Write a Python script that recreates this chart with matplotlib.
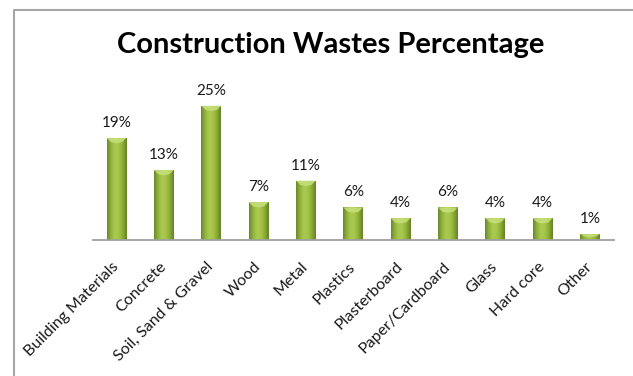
import numpy as np
import matplotlib
matplotlib.use("Agg")
import matplotlib.pyplot as plt
from matplotlib.colors import LinearSegmentedColormap
from matplotlib.patches import Polygon
from matplotlib.lines import Line2D

categories = [
    "Building Materials", "Concrete", "Soil, Sand & Gravel", "Wood", "Metal",
    "Plastics", "Plasterboard", "Paper/Cardboard", "Glass", "Hard core", "Other",
]
percentages = [19, 13, 25, 7, 11, 6, 4, 6, 4, 4, 1]

plt.rcParams["font.family"] = ["Lato", "DejaVu Sans"]

fig = plt.figure(figsize=(6.33, 3.76), dpi=100)
ax = fig.add_axes([0.1466, 0.363, 0.8229, 0.4269])

x = np.arange(len(categories))
bar_w = 0.42
bars = ax.bar(x, percentages, width=bar_w, color="#96b840", zorder=2)

# horizontal shading: darker sides, brighter middle
green = LinearSegmentedColormap.from_list(
    "bar_green", ["#6a892b", "#92b33d", "#abca4f", "#a5c54a", "#8aab36", "#658226"]
)
grad = np.linspace(0, 1, 64).reshape(1, -1)
for rect, val in zip(bars, percentages):
    x0 = rect.get_x()
    x1 = x0 + rect.get_width()
    im = ax.imshow(grad, cmap=green, extent=[x0, x1, 0, val], aspect="auto",
                   interpolation="bicubic", zorder=3)
    im.set_clip_path(rect)
    # bevel highlight at the top of each bar
    d = min(0.8, val * 0.45)
    inset = rect.get_width() * 0.22
    bevel = Polygon([(x0, val), (x1, val), (x1 - inset, val - d),
                     ((x0 + x1) / 2, val - d * 1.25), (x0 + inset, val - d)],
                    closed=True, facecolor="#c8e07c", edgecolor="none",
                    alpha=0.85, zorder=4)
    ax.add_patch(bevel)
    ax.text(rect.get_x() + rect.get_width() / 2, val + 1.5, f"{val}%",
            ha="center", va="bottom", fontsize=11, color="#1a1a1a")

ax.set_xlim(-0.5, len(categories) - 0.5)
ax.set_ylim(0, 30)
ax.set_yticks([])
ax.set_xticks(x)
ax.set_xticklabels(categories, rotation=45, ha="right", va="center",
                   rotation_mode="anchor", fontsize=11.5, color="#1a1a1a")
ax.tick_params(axis="x", length=0, pad=18)
for side in ["top", "right", "left"]:
    ax.spines[side].set_visible(False)
ax.spines["bottom"].set_color("#a0a0a0")
ax.spines["bottom"].set_linewidth(1.3)
ax.spines["bottom"].set_zorder(5)

fig.text(0.523, 0.88, "Construction Wastes Percentage", ha="center",
         va="center", fontsize=21, fontweight="bold", color="black")

# outer chart frame
W, H = 633, 376
fx = 13.5 / W
fy = 1 - 9.5 / H
fig.add_artist(Line2D([fx, fx, 1.0], [0.0, fy, fy], transform=fig.transFigure,
                      color="#a6a6a6", linewidth=1.5))

fig.savefig("out.png", dpi=100)
